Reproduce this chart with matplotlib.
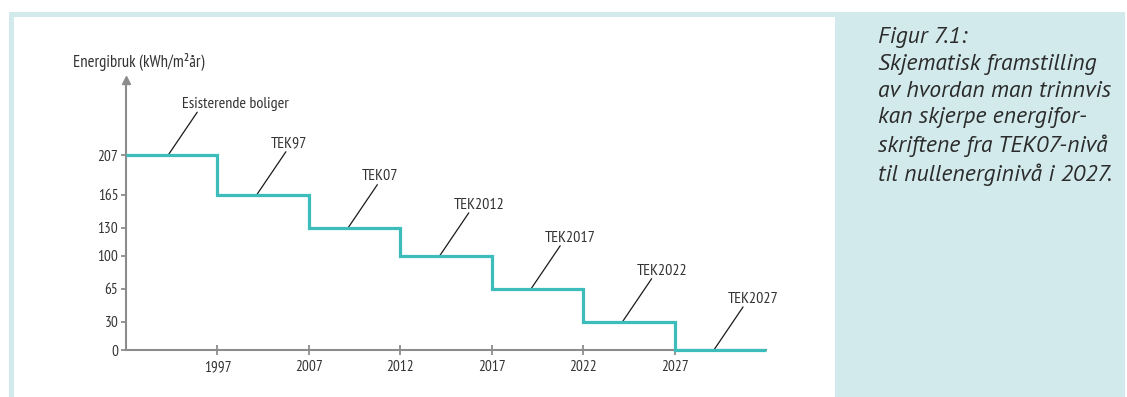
import matplotlib.pyplot as plt
from matplotlib.patches import Rectangle
import numpy as np

# data
years = ['1997', '2007', '2012', '2017', '2022', '2027']
levels = [207, 165, 130, 100, 65, 30, 0]
labels = ['Esisterende boliger', 'TEK97', 'TEK07', 'TEK2012', 'TEK2017', 'TEK2022', 'TEK2027']
yticks = [0, 30, 65, 100, 130, 165, 207]
caption = ("Figur 7.1:\nSkjematisk framstilling\nav hvordan man trinnvis\n"
           "kan skjerpe energifor-\nskriftene fra TEK07-nivå\ntil nullenerginivå i 2027.")

W, H = 1127, 397
teal = '#3dbcbc'
axis_grey = '#8c8c8c'
txt = '#333333'
box = '#d2eaec'
chart_font = ['PT Sans Narrow', 'Roboto Condensed', 'Archivo Narrow', 'DejaVu Sans']
caption_font = ['PT Sans', 'Open Sans', 'DejaVu Sans']

plt.rcParams['font.family'] = chart_font

fig = plt.figure(figsize=(W / 100, H / 100), dpi=100)
fig.patch.set_facecolor('white')

# frame and caption box
fig.add_artist(Rectangle((9 / W, 0), (1125 - 9) / W, (H - 12) / H, transform=fig.transFigure,
                         facecolor=box, edgecolor='none', zorder=-3))
fig.add_artist(Rectangle((14 / W, 0), (835 - 14) / W, (H - 17) / H, transform=fig.transFigure,
                         facecolor='white', edgecolor='none', zorder=-2))

# axes: x=0 at 126px, x=7 at 766px ; y=0 at 350px, top (arrow) at 80px
ax = fig.add_axes([126 / W, (H - 350) / H, 640 / W, (350 - 80) / H])
ax.patch.set_alpha(0)
edges = np.arange(len(levels) + 1)
ax.set_xlim(0, len(levels))
ax.set_ylim(0, 287)

ax.stairs(levels, edges, baseline=None, color=teal, lw=2.3, zorder=5, clip_on=False)

for s in ['top', 'right']:
    ax.spines[s].set_visible(False)
for s in ['left', 'bottom']:
    ax.spines[s].set_color(axis_grey)
    ax.spines[s].set_linewidth(1.5)
ax.plot(0, 1, marker='^', color=axis_grey, markersize=6, transform=ax.transAxes, clip_on=False)

ax.set_xticks(np.arange(1, len(years) + 1))
ax.set_xticklabels(years)
ax.set_yticks(yticks)
ax.set_yticklabels([str(v) for v in yticks])
ax.tick_params(axis='x', direction='inout', length=7, width=1.3, color=axis_grey,
               labelsize=11, labelcolor=txt, pad=4)
ax.tick_params(axis='y', direction='out', length=3.5, width=1.3, color=axis_grey,
               labelsize=11, labelcolor=txt, pad=2)

# leader lines and labels
for i, (lab, lev) in enumerate(zip(labels, levels)):
    base = (i + (0.46 if i == 0 else 0.43), lev)
    ax.annotate('', xy=base, xytext=(21, 31), textcoords='offset points',
                arrowprops=dict(arrowstyle='-', color='#1a1a1a', lw=0.9, shrinkA=0, shrinkB=0))
    ax.annotate(lab, xy=base, xytext=(10, 34), textcoords='offset points',
                ha='left', va='baseline', fontsize=11.5, color=txt)

fig.text(73 / W, 1 - 62 / H, 'Energibruk (kWh/m²år)', ha='left', va='center',
         fontsize=12, color=txt)

fig.text(878 / W, 1 - 27 / H, caption, ha='left', va='top', fontsize=17, style='italic',
         color='#2b2b2b', linespacing=1.36, family=caption_font)

fig.savefig('out.png', dpi=100)
plt.close()
